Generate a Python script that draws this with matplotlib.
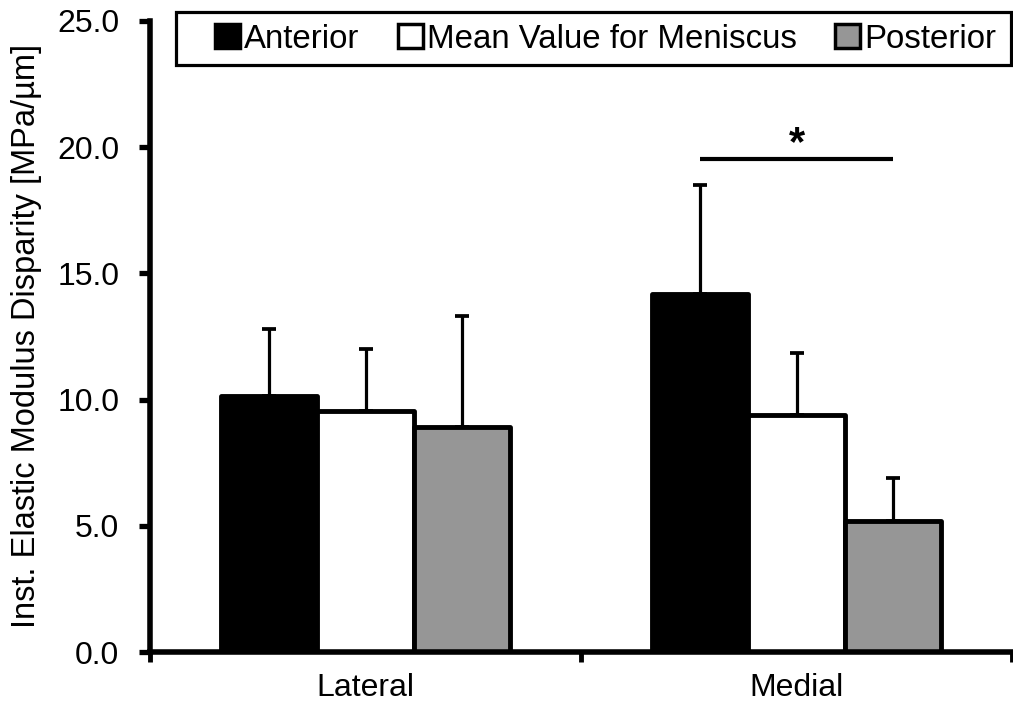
import numpy as np
import matplotlib
matplotlib.use("Agg")
import matplotlib.pyplot as plt
from matplotlib.patches import Patch, Rectangle

plt.rcParams['font.family'] = ['Liberation Sans', 'DejaVu Sans']

# Data
categories = ["Lateral", "Medial"]
series_names = ["Anterior", "Mean Value for Meniscus", "Posterior"]
anterior = [10.15, 14.2]
mean_meniscus = [9.55, 9.4]
posterior = [8.9, 5.2]
anterior_sd = [2.65, 4.3]
mean_meniscus_sd = [2.45, 2.45]
posterior_sd = [4.4, 1.7]
sig_level = 19.55
y_ticks = [0, 5, 10, 15, 20, 25]

colors = ["#000000", "#ffffff", "#969696"]
values = [anterior, mean_meniscus, posterior]
errors = [anterior_sd, mean_meniscus_sd, posterior_sd]

W, H = 1013, 711
fig = plt.figure(figsize=(W / 100, H / 100), dpi=100)
ax = fig.add_axes([150 / W, 1 - 652 / H, 862 / W, 631 / H])

centers = np.arange(len(categories)) + 0.5
bar_w = 0.224
offsets = [-bar_w, 0.0, bar_w]

for vals, errs, col, off in zip(values, errors, colors, offsets):
    xs = centers + off
    ax.errorbar(xs, vals, yerr=[np.zeros(len(vals)), errs], fmt='none',
                ecolor='black', elinewidth=2.3, capsize=4.7, capthick=2.7,
                zorder=1)
    ax.bar(xs, vals, bar_w, color=col, edgecolor='black', linewidth=3.5,
           joinstyle='round', zorder=2)

# Significance bracket between medial anterior and posterior
x_a = centers[1] + offsets[0]
x_p = centers[1] + offsets[2]
ax.plot([x_a, x_p], [sig_level, sig_level], color='black', lw=3,
        solid_capstyle='butt', zorder=3)
ax.text((x_a + x_p) / 2, sig_level + 0.12, "*", ha='center', va='baseline',
        fontsize=30, fontweight='bold')

ax.set_xlim(0, 2)
ax.set_ylim(0, 25)
ax.set_yticks(y_ticks)
ax.set_yticklabels([f"{v:.1f}" for v in y_ticks])
ax.set_xticks([0, 1, 2])
ax.set_xticklabels([])
ax.set_xticks(centers, categories, minor=True)

for s in ['top', 'right']:
    ax.spines[s].set_visible(False)
for s in ['left', 'bottom']:
    ax.spines[s].set_linewidth(4)

ax.tick_params(axis='y', direction='out', length=8, width=3.8, pad=14,
               labelsize=23)
ax.tick_params(axis='x', which='major', direction='out', length=7,
               width=3.5)
ax.tick_params(axis='x', which='minor', length=0, pad=15, labelsize=23)

fig.text(27 / W, 1 - 336 / H, "Inst. Elastic Modulus Disparity [MPa/µm]",
         rotation=90, ha='center', va='center', fontsize=23.5)

handles = [Patch(facecolor=c, edgecolor='black', linewidth=2.5,
                 joinstyle='round') for c in colors]
fig.legend(handles, series_names, loc='center left',
           bbox_to_anchor=(215 / W, 1 - 39 / H), ncol=3, frameon=False,
           fontsize=23.8, handlelength=0.76, handleheight=0.76,
           handletextpad=0.13, columnspacing=1.15, borderpad=0,
           borderaxespad=0)
fig.add_artist(Rectangle((176 / W, 1 - 65 / H), (1011 - 176) / W, 53 / H,
                         transform=fig.transFigure, fill=False,
                         edgecolor='black', lw=2.3))

fig.savefig("out.png", dpi=100)
